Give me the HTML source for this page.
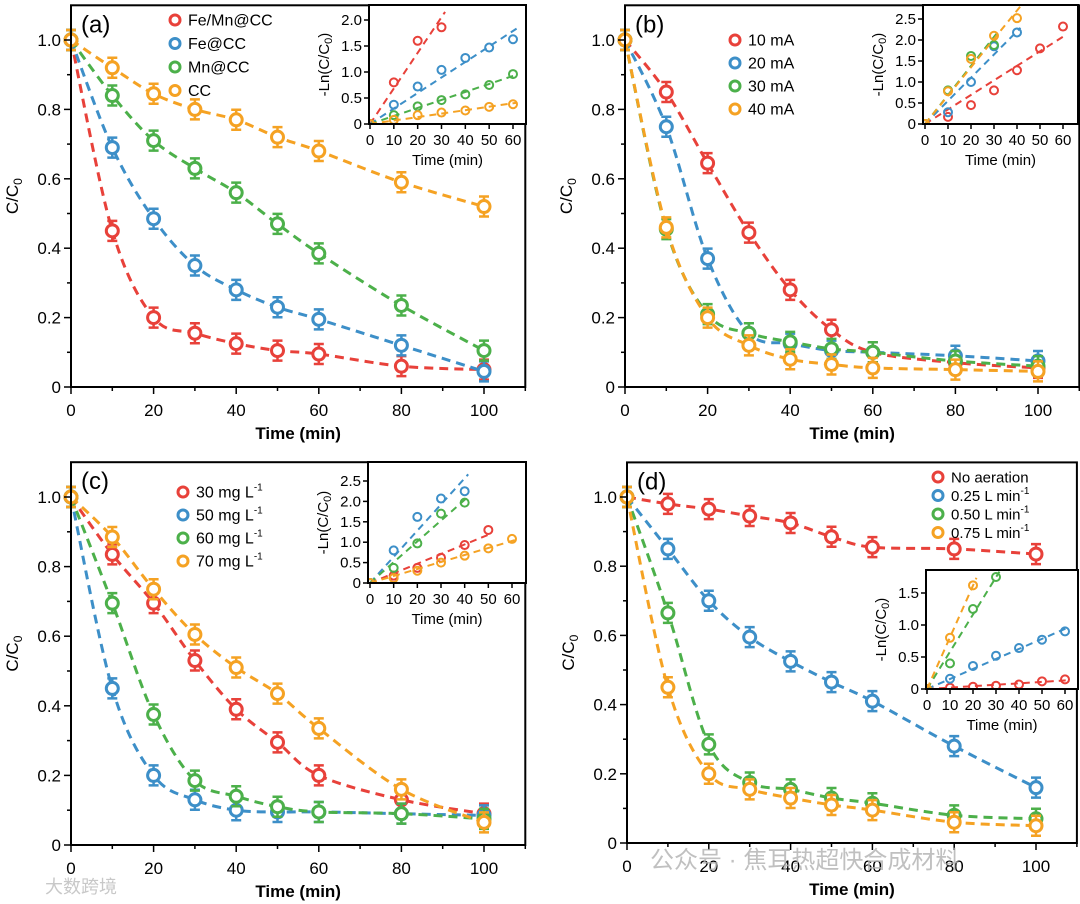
<!DOCTYPE html>
<html><head><meta charset="utf-8">
<style>
html,body{margin:0;padding:0;background:#fff;}
svg{display:block;font-family:"Liberation Sans","Noto Sans CJK SC",sans-serif;}
</style></head>
<body>
<svg id="fig" width="1080" height="904" viewBox="0 0 1080 904" xmlns="http://www.w3.org/2000/svg"></svg>
<script>
// ---------- data ----------
const times = [0,10,20,30,40,50,60,80,100];
const insetTimes = [0,10,20,30,40,50,60];
const colors = ["#e8413a","#3d8fc8","#4cb04a","#f5a223"];

const labelsA = ["Fe/Mn@CC","Fe@CC","Mn@CC","CC"];
const seriesA1 = [1,0.45,0.2,0.155,0.125,0.105,0.095,0.06,0.05];
const seriesA2 = [1,0.69,0.485,0.35,0.28,0.23,0.195,0.12,0.045];
const seriesA3 = [1,0.84,0.71,0.63,0.56,0.47,0.385,0.235,0.105];
const seriesA4 = [1,0.92,0.845,0.80,0.77,0.72,0.68,0.59,0.52];
const insetA1 = [0,0.8,1.6,1.86];
const insetA2 = [0,0.37,0.72,1.04,1.27,1.47,1.63];
const insetA3 = [0,0.17,0.34,0.46,0.57,0.75,0.96];
const insetA4 = [0,0.08,0.17,0.22,0.26,0.33,0.38];

const labelsB = ["10 mA","20 mA","30 mA","40 mA"];
const seriesB1 = [1,0.85,0.645,0.445,0.28,0.165,0.10,0.07,0.055];
const seriesB2 = [1,0.75,0.37,0.155,0.125,0.105,0.1,0.09,0.075];
const seriesB3 = [1,0.455,0.21,0.155,0.13,0.11,0.1,0.075,0.06];
const seriesB4 = [1,0.46,0.2,0.12,0.08,0.065,0.055,0.05,0.045];
const insetB1 = [0,0.17,0.45,0.8,1.28,1.8,2.32];
const insetB2 = [0,0.28,1.0,1.85,2.18];
const insetB3 = [0,0.8,1.62,1.88];
const insetB4 = [0,0.78,1.55,2.1,2.52];

const labelsC = ["30 mg L","50 mg L","60 mg L","70 mg L"];
const seriesC1 = [1,0.835,0.695,0.53,0.39,0.295,0.2,0.13,0.09];
const seriesC2 = [1,0.45,0.2,0.13,0.1,0.095,0.095,0.09,0.085];
const seriesC3 = [1,0.695,0.375,0.185,0.14,0.11,0.095,0.09,0.075];
const seriesC4 = [1,0.885,0.735,0.605,0.51,0.435,0.335,0.16,0.065];
const insetC1 = [0,0.18,0.37,0.62,0.93,1.3];
const insetC2 = [0,0.8,1.62,2.07,2.25];
const insetC3 = [0,0.37,0.97,1.7,1.97];
const insetC4 = [0,0.12,0.3,0.5,0.67,0.85,1.08];

const labelsD = ["No aeration","0.25 L min","0.50 L min","0.75 L min"];
const seriesD1 = [1,0.98,0.965,0.945,0.925,0.885,0.855,0.85,0.835];
const seriesD2 = [1,0.85,0.70,0.595,0.525,0.465,0.41,0.28,0.16];
const seriesD3 = [1,0.665,0.285,0.175,0.155,0.13,0.115,0.08,0.07];
const seriesD4 = [1,0.45,0.2,0.155,0.13,0.11,0.095,0.06,0.05];
const insetD1 = [0,0.02,0.035,0.05,0.07,0.12,0.15];
const insetD2 = [0,0.16,0.36,0.52,0.64,0.77,0.9];
const insetD3 = [0,0.4,1.25,1.75];
const insetD4 = [0,0.8,1.62];

const mainXTicks = [0,20,40,60,80,100];
const mainYTicks = [0,0.2,0.4,0.6,0.8,1.0];
const mainYTickLabels = ["0","0.2","0.4","0.6","0.8","1.0"];
const insetXTicks = [0,10,20,30,40,50,60];
const insetYTicksA = [0,0.5,1.0,1.5,2.0];
const insetYTicksB = [0,0.5,1.0,1.5,2.0,2.5];
const insetYTicksD = [0,0.5,1.0,1.5];

// ---------- layout ----------
const NS="http://www.w3.org/2000/svg";
const svg=document.getElementById('fig');
const defs=document.createElementNS(NS,'defs');svg.appendChild(defs);
function mk(tag,attrs,parent){const e=document.createElementNS(NS,tag);for(const k in attrs)e.setAttribute(k,attrs[k]);(parent||svg).appendChild(e);return e;}

function spline(pts){
  let d="M"+pts[0][0].toFixed(1)+","+pts[0][1].toFixed(1);
  for(let i=0;i<pts.length-1;i++){
    const p0=pts[Math.max(0,i-1)],p1=pts[i],p2=pts[i+1],p3=pts[Math.min(pts.length-1,i+2)];
    const c1=[p1[0]+(p2[0]-p0[0])/6,p1[1]+(p2[1]-p0[1])/6];
    const c2=[p2[0]-(p3[0]-p1[0])/6,p2[1]-(p3[1]-p1[1])/6];
    d+=" C"+c1[0].toFixed(1)+","+c1[1].toFixed(1)+" "+c2[0].toFixed(1)+","+c2[1].toFixed(1)+" "+p2[0].toFixed(1)+","+p2[1].toFixed(1);
  }
  return d;
}

function drawPanel(cfg){
  const g=mk('g',{});
  
  
  const sx=v=>cfg.x0+(cfg.x100-cfg.x0)*v/100;
  const sy=v=>cfg.y0-(cfg.y0-cfg.y1)*v;
  const right=sx(110), top=sy(1.1);
  cfg.series.forEach((s,si)=>{
    const sg=mk('g',{},g);
    
    
    const pts=times.map((t,i)=>[sx(t),sy(s[i])]);
    const p=mk('path',{d:spline(pts),fill:'none',stroke:colors[si],'stroke-width':3,'stroke-dasharray':'9,6'},sg);
    
    
    times.forEach((t,i)=>{
      const cx=sx(t),cy=sy(s[i]);
      const e=mk('path',{d:`M${cx},${cy-10}V${cy+10}M${cx-5},${cy-10}H${cx+5}M${cx-5},${cy+10}H${cx+5}`,stroke:colors[si],'stroke-width':2.5,fill:'none'},sg);
      
      
      const c=mk('circle',{cx:cx,cy:cy,r:6,fill:'#fff',stroke:colors[si],'stroke-width':3},sg);
      
      
    });
  });
  const fr=mk('rect',{x:cfg.x0,y:top,width:right-cfg.x0,height:cfg.y0-top,fill:'none',stroke:'#000','stroke-width':2},g);
  
  
  for(let v=0;v<=110;v+=10){
    const l=mk('line',{x1:sx(v),x2:sx(v),y1:cfg.y0,y2:cfg.y0+(v%20===0?7:4),stroke:'#000','stroke-width':1.5},g);
    
    
  }
  mainXTicks.forEach(v=>{
    const t=mk('text',{x:sx(v),y:cfg.y0+29,'text-anchor':'middle','font-size':17},g);t.textContent=v;
    
    
  });
  for(let k=0;k<=10;k++){
    const v=k/10;
    const l=mk('line',{x1:cfg.x0,x2:cfg.x0-(k%2===0?7:4),y1:sy(v),y2:sy(v),stroke:'#000','stroke-width':1.5},g);
    
    
  }
  mainYTicks.forEach((v,i)=>{
    const t=mk('text',{x:cfg.x0-10,y:sy(v)+6,'text-anchor':'end','font-size':17},g);t.textContent=mainYTickLabels[i];
    
    
  });
  const xt=mk('text',{x:(cfg.x0+right)/2,y:cfg.y0+52,'text-anchor':'middle','font-size':17,'font-weight':'bold'},g);
  xt.textContent='Time (min)';
  
  
  const ytx=cfg.x0-53, yty=(cfg.y0+top)/2;
  const yt=mk('text',{x:ytx,y:yty,'text-anchor':'middle','font-size':17,transform:`rotate(-90 ${ytx} ${yty})`},g);
  yt.innerHTML='C/C<tspan font-size="12" dy="4">0</tspan>';
  
  
  const pl=mk('text',{x:cfg.x0+10,y:top+27,'font-size':24},g);
  pl.textContent='('+cfg.id+')';
  
  
  cfg.labels.forEach((lab,i)=>{
    const lg=mk('g',{},g);
    
    
    const y=cfg.leg.y+i*cfg.leg.dy;
    mk('circle',{cx:cfg.leg.x,cy:y,r:5,fill:'#fff',stroke:colors[i],'stroke-width':3},lg);
    const t=mk('text',{x:cfg.leg.x+13,y:y+5.5,'font-size':cfg.leg.fs},lg);
    t.textContent=lab;
    if(cfg.leg.sup && cfg.leg.sup[i]){const ts=mk('tspan',{'font-size':10,dy:-7},t);ts.textContent='-1';}
  });
  // inset
  const I=cfg.inset;
  const cp=mk('clipPath',{id:'clip-'+cfg.id},defs);
  mk('rect',{x:I.left,y:I.top,width:I.right-I.left,height:I.y0-I.top},cp);
  const ig=mk('g',{},g);
  
  
  const ix=v=>I.x0+(I.x60-I.x0)*v/60;
  const iy=v=>I.y0-I.ppu*v;
  const ibg=mk('rect',{x:I.left,y:I.top,width:I.right-I.left,height:I.y0-I.top,fill:'#fff',stroke:'none'},ig);
  
  
  const cg=mk('g',{'clip-path':'url(#clip-'+cfg.id+')'},ig);
  cfg.insetSeries.forEach((s,si)=>{
    const n=s.length;
    let sxy=0,sxx=0;
    for(let i=0;i<n;i++){sxy+=insetTimes[i]*s[i];sxx+=insetTimes[i]*insetTimes[i];}
    const k=sxy/sxx, tEnd=insetTimes[n-1]+1.5;
    const l=mk('line',{x1:ix(0),y1:iy(0),x2:ix(tEnd),y2:iy(k*tEnd),stroke:colors[si],'stroke-width':2,'stroke-dasharray':'7,5'},cg);
    
    
    s.forEach((v,i)=>{
      const c=mk('circle',{cx:ix(insetTimes[i]),cy:iy(v),r:4,fill:'none',stroke:colors[si],'stroke-width':2},cg);
      
      
    });
  });
  const ifr=mk('rect',{x:I.left,y:I.top,width:I.right-I.left,height:I.y0-I.top,fill:'none',stroke:'#000','stroke-width':2},ig);
  
  
  insetXTicks.forEach(v=>{
    mk('line',{x1:ix(v),x2:ix(v),y1:I.y0,y2:I.y0+5,stroke:'#000','stroke-width':1.5},ig);
    const t=mk('text',{x:ix(v),y:I.y0+21,'text-anchor':'middle','font-size':15},ig);t.textContent=v;
    
    
  });
  I.yticks.forEach(v=>{
    mk('line',{x1:I.left,x2:I.left-5,y1:iy(v),y2:iy(v),stroke:'#000','stroke-width':1.5},ig);
    const t=mk('text',{x:I.left-7,y:iy(v)+5,'text-anchor':'end','font-size':15},ig);t.textContent=(v===0?'0':v.toFixed(1));
    
    
  });
  const it=mk('text',{x:(I.left+I.right)/2,y:I.y0+41,'text-anchor':'middle','font-size':15},ig);
  it.textContent='Time (min)';
  
  
  const yx=I.left-40, yy=(I.y0+I.top)/2;
  const iyt=mk('text',{x:yx,y:yy,'text-anchor':'middle','font-size':15,transform:`rotate(-90 ${yx} ${yy})`},ig);
  iyt.innerHTML='-Ln(C/C<tspan font-size="11" dy="3">0</tspan><tspan dy="-3">)</tspan>';
  
  
}

drawPanel({id:'a',x0:71,x100:484,y0:387,y1:40,series:[seriesA1,seriesA2,seriesA3,seriesA4],labels:labelsA,
  leg:{x:175,y:20,dy:23.5,fs:16},insetSeries:[insetA1,insetA2,insetA3,insetA4],
  inset:{left:369,right:526,top:5,x0:370,x60:513,y0:124,ppu:52,yticks:insetYTicksA}});
drawPanel({id:'b',x0:625,x100:1038,y0:387,y1:40,series:[seriesB1,seriesB2,seriesB3,seriesB4],labels:labelsB,
  leg:{x:735,y:40,dy:23,fs:16},insetSeries:[insetB1,insetB2,insetB3,insetB4],
  inset:{left:923,right:1078,top:5,x0:925,x60:1063,y0:124,ppu:42,yticks:insetYTicksB}});
drawPanel({id:'c',x0:71,x100:484,y0:845,y1:497,series:[seriesC1,seriesC2,seriesC3,seriesC4],labels:labelsC,
  leg:{x:183,y:492,dy:23,fs:16,sup:[1,1,1,1]},insetSeries:[insetC1,insetC2,insetC3,insetC4],
  inset:{left:368,right:526,top:462,x0:370,x60:512,y0:583,ppu:40.8,yticks:insetYTicksB}});
drawPanel({id:'d',x0:627,x100:1036,y0:843,y1:497,series:[seriesD1,seriesD2,seriesD3,seriesD4],labels:labelsD,
  leg:{x:938,y:477,dy:18.5,fs:15,sup:[0,1,1,1]},insetSeries:[insetD1,insetD2,insetD3,insetD4],
  inset:{left:926,right:1078,top:570,x0:927,x60:1065,y0:689,ppu:64,yticks:insetYTicksD}});

const w1=mk('text',{x:650,y:868,'font-size':24,fill:'#b0b0b0','fill-opacity':0.8});
w1.textContent='公众号 · 焦耳热超快合成材料';


const w2=mk('text',{x:45,y:893,'font-size':18,fill:'#c8c8c8'});
w2.textContent='大数跨境';


</script>
</body></html>
